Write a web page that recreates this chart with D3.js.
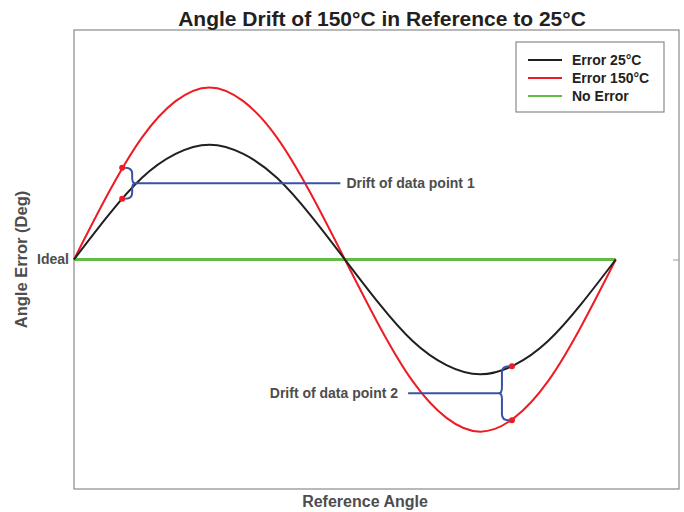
<!DOCTYPE html>
<html>
<head>
<meta charset="utf-8">
<script src="https://cdn.jsdelivr.net/npm/d3@7"></script>
<style>
  body { margin: 0; background: #fff; }
  text { font-family: "Liberation Sans", Arial, sans-serif; font-weight: bold; }
</style>
</head>
<body>
<svg id="chart" width="684" height="512"></svg>
<script>
// reference angle (deg) sampled along the curves
var angles = [0, 22.5, 45, 67.5, 90, 112.5, 135, 157.5, 180, 202.5, 225, 247.5, 270, 292.5, 315, 337.5, 360];
// angle error (1 = black amplitude)
var error25 = [0, 0.38, 0.71, 0.92, 1.0, 0.92, 0.71, 0.38, 0, -0.38, -0.71, -0.92, -1.0, -0.92, -0.71, -0.38, 0];
var error150 = [0, 0.57, 1.06, 1.38, 1.5, 1.38, 1.06, 0.57, 0, -0.57, -1.06, -1.38, -1.5, -1.38, -1.06, -0.57, 0];
var noError = [0, 0];
var noErrorAngles = [0, 360];

// marked data points: [angle, error 25C, error 150C]
var drift1 = [32, 0.53, 0.80];
var drift2 = [291, -0.93, -1.40];

var seriesNames = ['Error 25°C', 'Error 150°C', 'No Error'];
var seriesColors = ['#231f20', '#ed1c24', '#62bb46'];

var svg = d3.select('#chart'),
    margin = {top: 30, right: 5, bottom: 23, left: 74},
    width = 684 - margin.left - margin.right,
    height = 512 - margin.top - margin.bottom,
    g = svg.append('g').attr('transform', 'translate(' + margin.left + ',' + margin.top + ')');

var x = d3.scaleLinear().domain([0, 402]).range([0, width]);
var y = d3.scaleLinear().domain([-2, 2]).range([height, 0]);

// frame
g.append('rect')
    .attr('x', 0).attr('y', 0)
    .attr('width', width).attr('height', height)
    .attr('fill', 'none')
    .attr('stroke', '#8a8a8a')
    .attr('stroke-width', 1.2);

// right tick at ideal
g.append('g')
    .attr('transform', 'translate(' + width + ',0)')
    .call(d3.axisLeft(y).tickValues([0]).tickSize(6).tickFormat(''))
    .call(function (a) { a.select('.domain').remove(); })
    .selectAll('line').attr('stroke', '#9a9a9a');

// left axis label "Ideal"
g.append('g')
    .call(d3.axisLeft(y).tickValues([0]).tickSize(0).tickPadding(5).tickFormat(function () { return 'Ideal'; }))
    .call(function (a) { a.select('.domain').remove(); })
    .selectAll('text')
    .attr('font-size', 14)
    .attr('font-family', '"Liberation Sans", Arial, sans-serif')
    .attr('font-weight', 'bold')
    .attr('fill', '#4d4d4d');

var line = d3.line()
    .x(function (d) { return x(d[0]); })
    .y(function (d) { return y(d[1]); })
    .curve(d3.curveLinear);

g.append('path')
    .datum(d3.zip(noErrorAngles, noError))
    .attr('d', line)
    .attr('fill', 'none')
    .attr('stroke', seriesColors[2])
    .attr('stroke-width', 3);

line.curve(d3.curveNatural);

g.append('path')
    .datum(d3.zip(angles, error150))
    .attr('d', line)
    .attr('fill', 'none')
    .attr('stroke', seriesColors[1])
    .attr('stroke-width', 2);

g.append('path')
    .datum(d3.zip(angles, error25))
    .attr('d', line)
    .attr('fill', 'none')
    .attr('stroke', seriesColors[0])
    .attr('stroke-width', 2);

// braces
var blue = '#3953a4';
function brace(px, yTop, yBot, dir, lineTo) {
  // dir: +1 opens to the right of points, -1 to the left
  var bx = px + dir * 10, r = 6, my = (yTop + yBot) / 2;
  var d = 'M' + (px + dir * 3) + ',' + yTop +
    'Q' + bx + ',' + yTop + ' ' + bx + ',' + (yTop + r) +
    'L' + bx + ',' + (my - r) +
    'Q' + bx + ',' + my + ' ' + (bx + dir * 3) + ',' + my +
    'Q' + bx + ',' + my + ' ' + bx + ',' + (my + r) +
    'L' + bx + ',' + (yBot - r) +
    'Q' + bx + ',' + yBot + ' ' + (px + dir * 3) + ',' + yBot;
  g.append('path').attr('d', d).attr('fill', 'none').attr('stroke', blue).attr('stroke-width', 2);
  g.append('line')
      .attr('x1', bx + dir * 2).attr('x2', lineTo)
      .attr('y1', my).attr('y2', my)
      .attr('stroke', blue).attr('stroke-width', 2);
  return my;
}

var my1 = brace(x(drift1[0]), y(drift1[2]), y(drift1[1]), 1, x(177));
g.append('text')
    .attr('x', x(177) + 6).attr('y', my1).attr('dy', '0.35em')
    .attr('font-size', 14).attr('fill', '#4d4d4d')
    .text('Drift of data point 1');

var my2 = brace(x(drift2[0]), y(drift2[1]), y(drift2[2]), -1, x(222));
g.append('text')
    .attr('x', x(222) - 10).attr('y', my2).attr('dy', '0.35em')
    .attr('text-anchor', 'end')
    .attr('font-size', 14).attr('fill', '#4d4d4d')
    .text('Drift of data point 2');

// dots
var dots = [[drift1[0], drift1[1]], [drift1[0], drift1[2]], [drift2[0], drift2[1]], [drift2[0], drift2[2]]];
g.selectAll('circle.dot')
    .data(dots)
    .enter().append('circle')
    .attr('class', 'dot')
    .attr('cx', function (d) { return x(d[0]); })
    .attr('cy', function (d) { return y(d[1]); })
    .attr('r', 3)
    .attr('fill', seriesColors[1]);

// title and axis titles
svg.append('text')
    .attr('x', 382).attr('y', 26)
    .attr('text-anchor', 'middle')
    .attr('font-size', 21).attr('fill', '#231f20')
    .text('Angle Drift of 150°C in Reference to 25°C');

svg.append('text')
    .attr('x', 365).attr('y', 507)
    .attr('text-anchor', 'middle')
    .attr('font-size', 16).attr('fill', '#4d4d4d')
    .text('Reference Angle');

svg.append('text')
    .attr('transform', 'translate(27,' + (margin.top + y(0)) + ') rotate(-90)')
    .attr('text-anchor', 'middle')
    .attr('font-size', 16.5).attr('fill', '#4d4d4d')
    .text('Angle Error (Deg)');

// legend
var legend = svg.append('g').attr('transform', 'translate(516,42)');
legend.append('rect')
    .attr('width', 148).attr('height', 70)
    .attr('fill', '#fff').attr('stroke', '#8a8a8a').attr('stroke-width', 1.2);
seriesNames.forEach(function (name, i) {
  var ly = 18 + i * 18;
  legend.append('line')
      .attr('x1', 12).attr('x2', 46)
      .attr('y1', ly).attr('y2', ly)
      .attr('stroke', seriesColors[i]).attr('stroke-width', 2);
  legend.append('text')
      .attr('x', 56).attr('y', ly).attr('dy', '0.35em')
      .attr('font-size', 14).attr('fill', '#231f20')
      .text(name);
});
</script>
</body>
</html>
